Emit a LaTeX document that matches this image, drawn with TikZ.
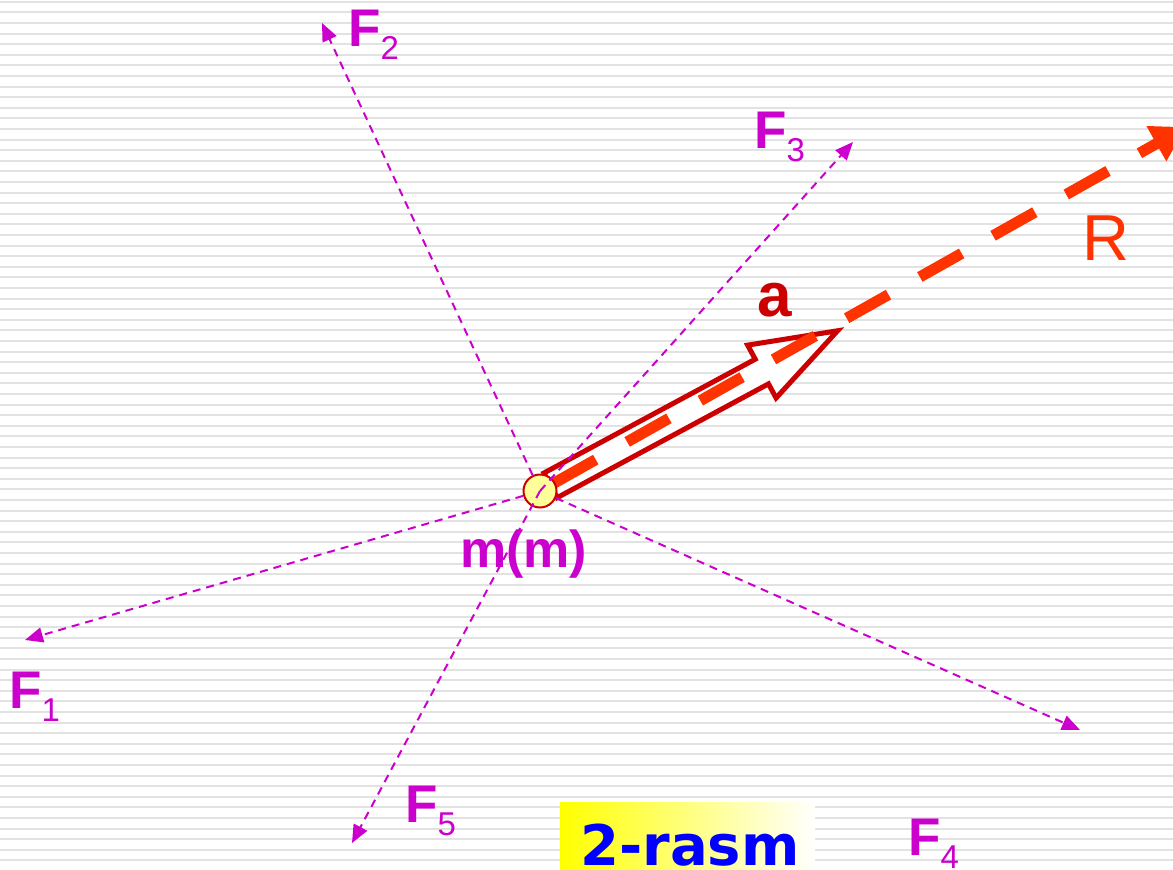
\documentclass[tikz,border=0pt]{standalone}
\usepackage{fontspec}
\setmainfont{Liberation Sans}
\newfontfamily\boxfont{DejaVu Sans}
\usetikzlibrary{arrows.meta,calc}
\definecolor{mag}{HTML}{CC00CC}
\definecolor{rcol}{HTML}{FF3300}
\definecolor{acol}{HTML}{CC0000}
\definecolor{circfill}{HTML}{FFFF99}
\definecolor{stripe}{HTML}{E2E2E2}
\newcommand\Flab[1]{{\fontsize{53}{53}\selectfont\bfseries F}\raisebox{-13pt}{\fontsize{33}{33}\selectfont #1}}
\begin{document}
\begin{tikzpicture}[x=1pt,y=-1pt,
  force/.style={mag, line width=2pt, dash pattern=on 8pt off 6pt, -{Triangle[length=18pt,width=15pt]}},
  flabel/.style={mag, anchor=base west, inner sep=0pt},
  txt/.style={anchor=base west, inner sep=0pt}
]
\useasboundingbox (0,0) rectangle (1173,870);
\begin{scope}
\clip (0,0) rectangle (1173,870);
\fill[white] (0,0) rectangle (1173,870);
\foreach \k in {0,...,82} \fill[stripe] (0,{0.7+10.6*\k}) rectangle (1173,{2.7+10.6*\k});

\coordinate (c) at (540,491);
\coordinate (t1) at (25,640);
\coordinate (t2) at (322,23);
\coordinate (t3) at (853,142);
\coordinate (t4) at (1080,730);
\coordinate (t5) at (352,843);
\coordinate (rt) at (1186,127);

% acceleration arrow (hollow)
\begin{scope}[shift={(c)}, rotate=28.3]
\draw[acol, line width=5pt, fill=white, miter limit=10]
  (12,14) -- (252,14) -- (252,30) -- (338,0) -- (252,-30) -- (252,-14) -- (12,-14) -- cycle;
\end{scope}

% resultant
\draw[rcol, line width=11pt, dash pattern=on 48pt off 36pt, dash phase=68pt,
  -{Triangle[length=34pt,width=38pt]}] (c) -- (rt);

% body
\node[circle, draw=acol, fill=circfill, line width=2pt, minimum size=33pt, inner sep=0pt] (m) at (c) {};

% forces
\draw[force] (m) -- (t1);
\draw[force] (m) -- (t2);
\draw[force] (m.center) -- (t3);
\draw[force] (m) -- (t4);
\draw[force] (m.center) -- (t5);

\node[flabel] (f1) at (9,708) {\Flab{1}};
\node[flabel] (f2) at (348,46) {\Flab{2}};
\node[flabel] (f3) at (754,148) {\Flab{3}};
\node[flabel] (f4) at (908,855) {\Flab{4}};
\node[flabel] (f5) at (405,822) {\Flab{5}};

\node[txt, mag, font=\fontsize{52}{52}\selectfont\bfseries] (mm) at (460,567) {m(m)};
\node[txt, acol, font=\fontsize{62}{62}\selectfont\bfseries] (al) at (757,316) {a};
\node[txt, rcol, font=\fontsize{65}{65}\selectfont] (rl) at (1082,260) {R};

\shade[left color=yellow, right color=white] (560,802) rectangle (815,872);
\node[txt, blue, font=\boxfont\fontsize{56}{56}\selectfont\bfseries] (lab) at (580,865) {2-rasm};
\end{scope}
\end{tikzpicture}
\end{document}
